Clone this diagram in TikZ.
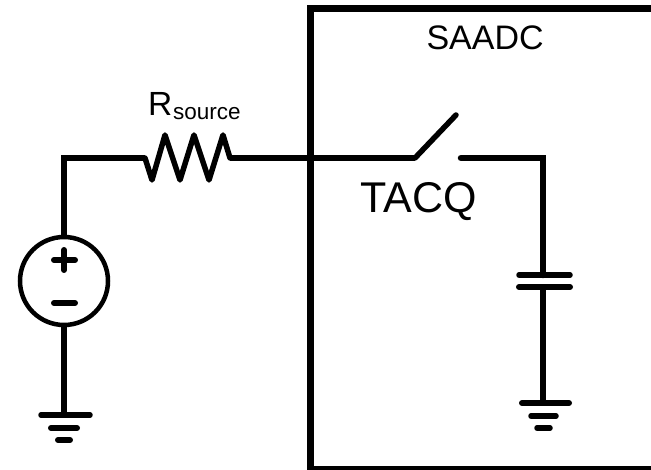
\documentclass[tikz,border=0pt]{standalone}
\usepackage{fontspec}
\setmainfont{Liberation Sans}
\tikzset{
  wire/.style={line width=6.5pt,line join=miter,black},
  plate/.style={line width=5.5pt,line cap=round,black},
  lbl/.style={anchor=base west,inner sep=0pt,outer sep=0pt,text=black},
  srcnode/.style={circle,draw=black,line width=4.5pt,minimum size=88pt,inner sep=0pt}
}
\begin{document}
\begin{tikzpicture}[x=1pt,y=-1pt]
\useasboundingbox (0,0) rectangle (651,470);
% SAADC box
\coordinate (boxTR) at (651,9);
\coordinate (boxTL) at (310,9);
\coordinate (boxBL) at (310,470);
\coordinate (boxBR) at (651,468);
\draw[line width=7pt,line join=miter] (boxTR) -- (boxTL) -- (boxBL);
\draw[line width=4pt] (310,468) -- (boxBR);
% Source
\node[srcnode] (src) at (64,281) {};
\coordinate (plusL) at (54,260); \coordinate (plusR) at (75,260);
\coordinate (plusT) at (64,250); \coordinate (plusB) at (64,270);
\coordinate (minusL) at (54,303); \coordinate (minusR) at (75,303);
\draw[line width=6pt,line cap=round] (plusL) -- (plusR);
\draw[line width=6pt,line cap=round] (plusT) -- (plusB);
\draw[line width=6pt,line cap=round] (minusL) -- (minusR);
% Left wire and resistor
\coordinate (corner) at (64,158);
\coordinate (rIn) at (145,158);
\coordinate (rOut) at (230,158);
\coordinate (swIn) at (415,158);
\draw[wire] (src.north) -- (corner) -- (rIn);
\draw[line width=5.5pt,line join=round,line cap=round] (rIn) -- (152,180) -- (165,135) -- (180,180) -- (194,135) -- (209,180) -- (223,135) -- (rOut);
\draw[wire] (rOut) -- (swIn);
% Left ground
\coordinate (gndA) at (64,415);
\draw[wire] (src.south) -- (gndA);
\draw[plate] (41,415) -- (90,415);
\draw[line width=6pt,line cap=round] (51,428) -- (77,428);
\draw[line width=6pt,line cap=round] (58,440) -- (70,440);
% Switch
\coordinate (swTip) at (456,115);
\coordinate (swOut) at (461,158);
\coordinate (rCorner) at (543,158);
\coordinate (capTop) at (543,275);
\coordinate (capBot) at (543,287);
\coordinate (gndB) at (543,403);
\draw[line width=5.5pt,line cap=round] (swIn) -- (swTip);
\draw[wire,line cap=round] (swOut) -- (rCorner) -- (capTop);
% Capacitor
\draw[plate] (519,275) -- (570,275);
\draw[line width=6pt,line cap=round] (519,287) -- (570,287);
\draw[wire] (capBot) -- (gndB);
% Right ground
\draw[line width=6pt,line cap=round] (522,403) -- (569,403);
\draw[plate] (531,416) -- (556,416);
\draw[plate] (537,428) -- (550,428);
% Labels
\node[lbl,font=\fontsize{34}{40}\selectfont] (saadc) at (426.5,50) {SAADC};
\node[lbl,font=\fontsize{43}{48}\selectfont] (tacq) at (360.5,213) {TACQ};
\node[lbl,font=\fontsize{33.5}{38}\selectfont] (rlab) at (148,116) {R};
\node[lbl,font=\fontsize{22.5}{26}\selectfont] (rsub) at (173,120) {source};
\end{tikzpicture}
\end{document}
